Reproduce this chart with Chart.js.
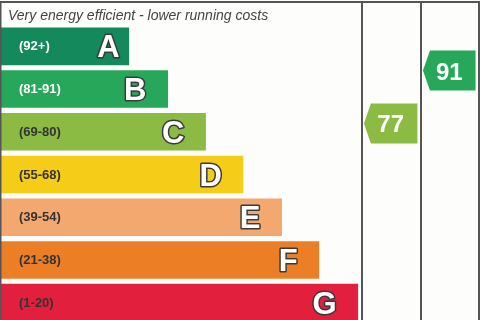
<!DOCTYPE html>
<html>
<head>
<meta charset="utf-8">
<script src="https://cdn.jsdelivr.net/npm/chart.js@4/dist/chart.umd.min.js"></script>
<style>
html,body{margin:0;padding:0;background:#fdfdfb;overflow:hidden;width:480px;height:320px;}
#wrap{width:480px;height:324px;position:relative;}
</style>
</head>
<body>
<div id="wrap"><canvas id="c" width="480" height="324"></canvas></div>
<script>
// ---- data ----
const bands = ['A', 'B', 'C', 'D', 'E', 'F', 'G'];
const bandRanges = ['(92+)', '(81-91)', '(69-80)', '(55-68)', '(39-54)', '(21-38)', '(1-20)'];
const bandLengths = [26.9, 35, 42.9, 50.7, 58.75, 66.5, 74.6];
const bandColors = ['#13895c', '#27a75a', '#8cbb43', '#f5cc18', '#f2a86e', '#ec7f26', '#e31f3e'];
const rangeTextColors = ['#ffffff', '#ffffff', '#333333', '#333333', '#333333', '#333333', '#333333'];
const headingText = 'Very energy efficient - lower running costs';
const currentRating = 77;
const potentialRating = 91;
const currentBand = 'C';
const potentialBand = 'B';

// column edges in x-scale units (0..100)
const colCurrent = [75.4, 87.7];
const colPotential = [87.7, 99.8];

const epcPlugin = {
  id: 'epc',
  afterDatasetsDraw(chart) {
    const ctx = chart.ctx;
    const meta = chart.getDatasetMeta(0);
    const xs = chart.scales.x;
    const yr = chart.scales.yr;
    ctx.save();
    meta.data.forEach((bar, i) => {
      const cy = bar.y;
      ctx.font = 'bold 13px "Liberation Sans", Arial, sans-serif';
      ctx.fillStyle = rangeTextColors[i];
      ctx.textAlign = 'left';
      ctx.textBaseline = 'middle';
      ctx.fillText(bandRanges[i], 19, cy + 0.5);
      ctx.font = 'bold 31px "Liberation Sans", Arial, sans-serif';
      ctx.textAlign = 'right';
      ctx.textBaseline = 'alphabetic';
      const inset = i === 0 ? 9.5 : 21.5;
      const tx = bar.x - inset;
      const ty = cy + 31 * 0.716 / 2;
      ctx.lineJoin = 'round';
      ctx.lineWidth = 3;
      ctx.strokeStyle = '#3a3a3a';
      ctx.strokeText(bands[i], tx, ty);
      ctx.fillStyle = '#ffffff';
      ctx.fillText(bands[i], tx, ty);
    });
    ctx.font = 'italic 14px "Liberation Sans", Arial, sans-serif';
    ctx.fillStyle = '#444444';
    ctx.textAlign = 'left';
    ctx.textBaseline = 'alphabetic';
    ctx.fillText(headingText, 8, 20);
    ctx.strokeStyle = '#555555';
    ctx.lineWidth = 2;
    ctx.beginPath();
    ctx.moveTo(0, 2); ctx.lineTo(480, 2);
    [colCurrent[0], colCurrent[1], colPotential[1]].forEach(v => {
      const px = Math.round(xs.getPixelForValue(v));
      ctx.moveTo(px, 1); ctx.lineTo(px, 324);
    });
    ctx.stroke();
    ctx.lineWidth = 1.5;
    ctx.beginPath();
    ctx.moveTo(0.75, 1); ctx.lineTo(0.75, 324);
    ctx.stroke();
    const drawArrow = (col, rating, band) => {
      const x0 = xs.getPixelForValue(col[0]) + 2;
      const x1 = xs.getPixelForValue(col[1]) - 3.5;
      const cy = yr.getPixelForValue(rating);
      const h = 20, tip = 7;
      ctx.fillStyle = bandColors[bands.indexOf(band)];
      ctx.beginPath();
      ctx.moveTo(x0, cy);
      ctx.lineTo(x0 + tip, cy - h);
      ctx.lineTo(x1, cy - h);
      ctx.lineTo(x1, cy + h);
      ctx.lineTo(x0 + tip, cy + h);
      ctx.closePath();
      ctx.fill();
      ctx.font = 'bold 24px "Liberation Sans", Arial, sans-serif';
      ctx.fillStyle = '#ffffff';
      ctx.textAlign = 'center';
      ctx.textBaseline = 'alphabetic';
      ctx.fillText(String(rating), (x0 + x1) / 2, cy + 24 * 0.716 / 2 + 0.5);
    };
    drawArrow(colCurrent, currentRating, currentBand);
    drawArrow(colPotential, potentialRating, potentialBand);
    ctx.restore();
  }
};

new Chart(document.getElementById('c'), {
  type: 'bar',
  data: {
    labels: bands,
    datasets: [{
      data: bandLengths,
      backgroundColor: bandColors,
      borderWidth: 0,
      categoryPercentage: 1,
      barPercentage: 0.88
    }]
  },
  options: {
    indexAxis: 'y',
    responsive: false,
    animation: false,
    devicePixelRatio: 1,
    layout: { padding: { top: 25, left: 0, right: 0, bottom: 0 } },
    plugins: { legend: { display: false }, tooltip: { enabled: false } },
    scales: {
      x: { type: 'linear', min: 0, max: 100, display: false, offset: false },
      y: { type: 'category', display: false, offset: true },
      yr: { type: 'linear', axis: 'y', min: 24, max: 103, display: false, position: 'right', offset: false }
    }
  },
  plugins: [epcPlugin]
});
</script>
</body>
</html>
